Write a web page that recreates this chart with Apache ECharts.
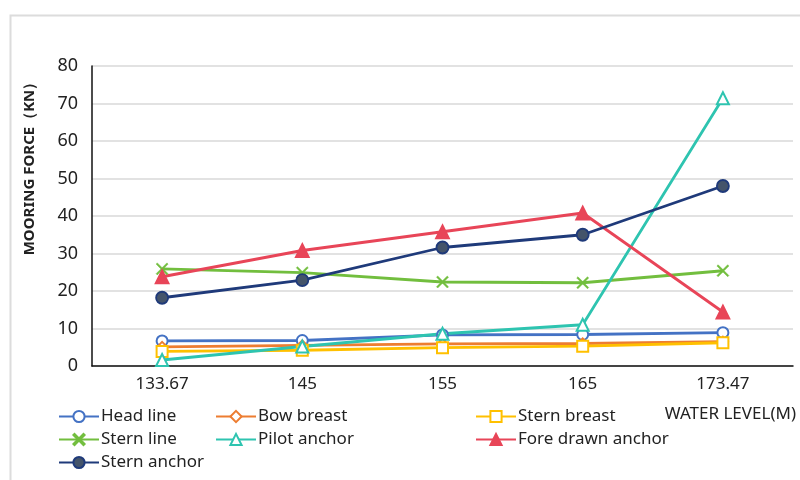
<!DOCTYPE html>
<html><head><meta charset="utf-8">
<script src="https://cdn.jsdelivr.net/npm/echarts@6/dist/echarts.min.js"></script>
<style>html,body{margin:0;padding:0;background:#fff}#c{width:800px;height:480px}</style>
</head><body><div id="c"></div>
<script>
var categories = ['133.67', '145', '155', '165', '173.47'];
var headLine = [6.7, 6.8, 8.3, 8.4, 8.9];
var bowBreast = [5.1, 5.5, 5.9, 6.0, 6.5];
var sternBreast = [3.9, 4.2, 4.9, 5.3, 6.2];
var sternLine = [25.9, 24.9, 22.4, 22.2, 25.4];
var pilotAnchor = [1.6, 5.2, 8.6, 11.0, 71.4];
var foreDrawnAnchor = [23.8, 30.8, 35.8, 40.8, 14.4];
var sternAnchor = [18.2, 22.9, 31.6, 35.0, 48.0];
var yTicks = [0, 80, 10];

var FONT = '"Noto Sans", "DejaVu Sans", sans-serif';
var xPath = 'path://M1,0L5,4L9,0L10,1L6,5L10,9L9,10L5,6L1,10L0,9L4,5L0,1Z';

function mk(name, data, color, symbol, size, fill, border) {
  return {
    name: name, type: 'line', data: data, symbol: symbol, symbolSize: size,
    showAllSymbol: true,
    lineStyle: { color: color, width: 2.8 },
    itemStyle: { color: fill || color, borderColor: border || color, borderWidth: 1.8 },
    emphasis: { disabled: true }, animation: false, z: 3
  };
}

var series = [
  mk('Head line', headLine, '#4472C4', 'emptyCircle', 11),
  mk('Bow breast', bowBreast, '#ED7D31', 'emptyDiamond', 10),
  mk('Stern breast', sternBreast, '#FFC000', 'emptyRect', 11),
  mk('Stern line', sternLine, '#72BE3E', xPath, 12, '#72BE3E', '#72BE3E'),
  mk('Pilot anchor', pilotAnchor, '#2EC4B0', 'emptyTriangle', 12),
  mk('Fore drawn anchor', foreDrawnAnchor, '#E84558', 'triangle', 13, '#E84558', '#E84558'),
  mk('Stern anchor', sternAnchor, '#1F3A7A', 'circle', 12, '#44546A', '#1F3A7A')
];
series[3].itemStyle.borderWidth = 0.5;

function leg(items, left) {
  return {
    data: items, orient: 'vertical', left: left, top: 403, itemGap: 6,
    itemWidth: 40, itemHeight: 14, padding: 5,
    textStyle: { fontFamily: FONT, fontSize: 17, color: '#222', padding: [0, 0, 0, -3] },
    selectedMode: false
  };
}

var chart = echarts.init(document.getElementById('c'), null, { renderer: 'canvas' });
chart.setOption({
  backgroundColor: '#fff',
  animation: false,
  grid: { left: 92, right: 7, top: 66, bottom: 114 },
  xAxis: {
    type: 'category', data: categories, boundaryGap: true,
    axisLine: { lineStyle: { color: '#111', width: 1.5 } },
    axisTick: { show: false },
    axisLabel: { fontFamily: FONT, fontSize: 17, color: '#222', margin: 10 },
    splitLine: { show: false }
  },
  yAxis: {
    type: 'value', min: yTicks[0], max: yTicks[1], interval: yTicks[2],
    axisLine: { show: true, lineStyle: { color: '#111', width: 1.5 } },
    axisTick: { show: false },
    axisLabel: { fontFamily: FONT, fontSize: 18, color: '#222', margin: 14 },
    splitLine: { lineStyle: { color: '#d9d9d9', width: 1.5 } }
  },
  legend: [
    leg(['Head line', 'Stern line', 'Stern anchor'], 53),
    leg(['Bow breast', 'Pilot anchor'], 210),
    leg(['Stern breast', 'Fore drawn anchor'], 470)
  ],
  graphic: [
    { type: 'rect', left: 8, top: 13, shape: { width: 800, height: 480 },
      style: { fill: 'none', stroke: '#dcdcdc', lineWidth: 2 }, silent: true, z: -10 },
    { type: 'text', x: 30, y: 165, rotation: Math.PI / 2,
      style: { text: 'MOORING FORCE（KN）', fontFamily: FONT, fontSize: 15, fontWeight: 'bold',
               fill: '#222', align: 'center', verticalAlign: 'middle' } },
    { type: 'text', x: 796, y: 414,
      style: { text: 'WATER LEVEL(M)', fontFamily: FONT, fontSize: 17, fill: '#222',
               align: 'right', verticalAlign: 'middle' } }
  ],
  series: series
});
</script>
</body></html>
